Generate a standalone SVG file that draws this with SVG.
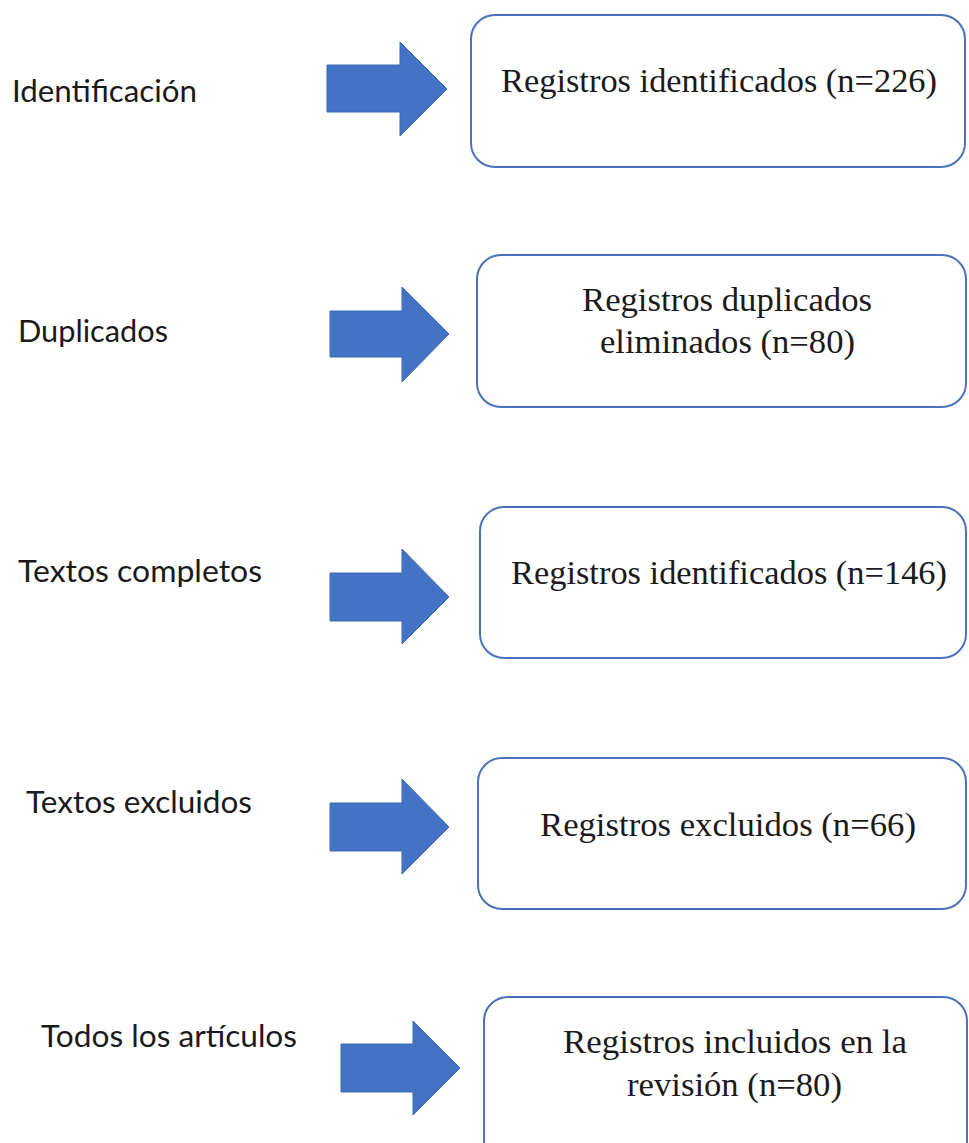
<svg xmlns="http://www.w3.org/2000/svg" width="969" height="1143" viewBox="0 0 969 1143">
<style>
.box{fill:#ffffff;stroke:#4a72b8;stroke-width:2}
.arrow{fill:#4472c4;stroke:#3f69b5;stroke-width:1}
.lbl{font-family:Lato,"Open Sans","Liberation Sans",sans-serif;font-size:31.5px;fill:#1a1a1a}
.txt{font-family:"Liberation Serif","Times New Roman",serif;font-size:34px;fill:#1a1a1a;text-anchor:middle}
</style>
<rect width="969" height="1143" fill="#ffffff"/>
<g id="connectors">
<polygon class="arrow" points="327,65 400,65 400,42 447,89 400,136 400,112 327,112"/>
<polygon class="arrow" points="330,311 402,311 402,287 449,334 402,382 402,357 330,357"/>
<polygon class="arrow" points="330,573 402,573 402,549 449,597 402,644 402,621 330,621"/>
<polygon class="arrow" points="330,803 402,803 402,779 449,827 402,874 402,851 330,851"/>
<polygon class="arrow" points="341,1044 413,1044 413,1021 460,1068 413,1115 413,1092 341,1092"/>
</g>
<g id="label-identificacion"><text class="lbl" x="12" y="102" textLength="185" lengthAdjust="spacingAndGlyphs">Identificación</text></g>
<g id="label-duplicados"><text class="lbl" x="18" y="342" textLength="150" lengthAdjust="spacingAndGlyphs">Duplicados</text></g>
<g id="label-textos-completos"><text class="lbl" x="18" y="582" textLength="244" lengthAdjust="spacingAndGlyphs">Textos completos</text></g>
<g id="label-textos-excluidos"><text class="lbl" x="26" y="813" textLength="226" lengthAdjust="spacingAndGlyphs">Textos excluidos</text></g>
<g id="label-todos"><text class="lbl" x="41" y="1047" textLength="256" lengthAdjust="spacingAndGlyphs">Todos los artículos</text></g>
<g id="box-identificados">
<rect class="box" x="471" y="15" width="494" height="152" rx="24" ry="24"/>
<text class="txt" x="719" y="92" textLength="436" lengthAdjust="spacingAndGlyphs">Registros identificados (n=226)</text>
</g>
<g id="box-duplicados">
<rect class="box" x="477" y="255" width="489" height="152" rx="24" ry="24"/>
<text class="txt" x="727" y="311" textLength="290" lengthAdjust="spacingAndGlyphs">Registros duplicados</text>
<text class="txt" x="727.5" y="353" textLength="255" lengthAdjust="spacingAndGlyphs">eliminados (n=80)</text>
</g>
<g id="box-textos">
<rect class="box" x="480" y="507" width="486" height="151" rx="24" ry="24"/>
<text class="txt" x="729" y="584" textLength="436" lengthAdjust="spacingAndGlyphs">Registros identificados (n=146)</text>
</g>
<g id="box-excluidos">
<rect class="box" x="478" y="758" width="488" height="151" rx="24" ry="24"/>
<text class="txt" x="728" y="836" textLength="376" lengthAdjust="spacingAndGlyphs">Registros excluidos (n=66)</text>
</g>
<g id="box-incluidos">
<rect class="box" x="484" y="997" width="483" height="170" rx="24" ry="24"/>
<text class="txt" x="735" y="1053" textLength="344" lengthAdjust="spacingAndGlyphs">Registros incluidos en la</text>
<text class="txt" x="734.5" y="1096" textLength="215" lengthAdjust="spacingAndGlyphs">revisión (n=80)</text>
</g>
</svg>
